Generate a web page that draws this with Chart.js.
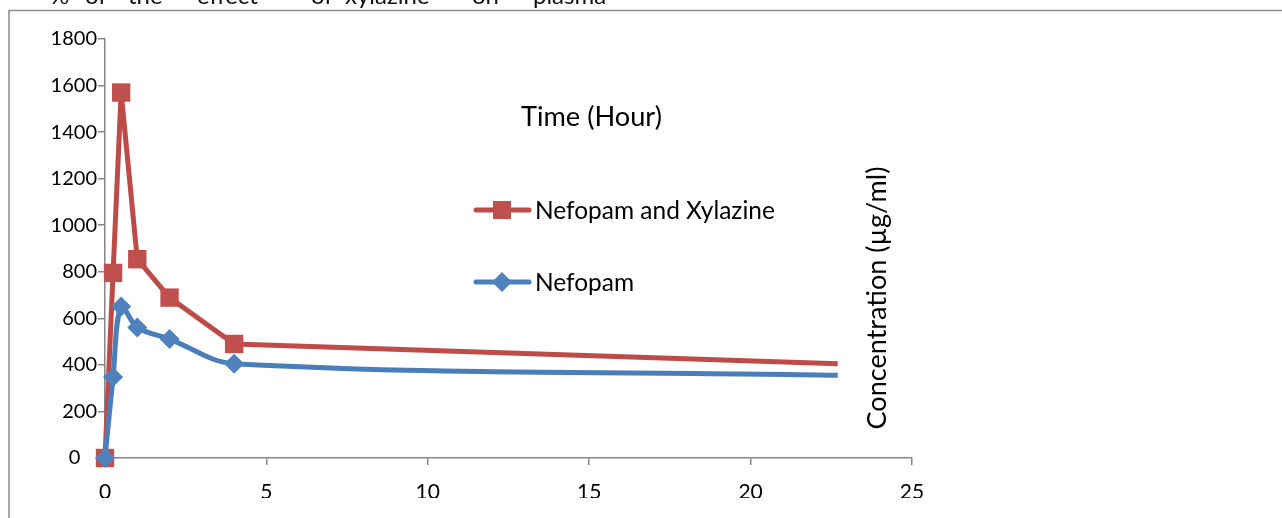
<!DOCTYPE html>
<html><head><meta charset="utf-8">
<script src="https://cdn.jsdelivr.net/npm/chart.js@4"></script>
<style>html,body{margin:0;padding:0;background:#fff;overflow:hidden}#wrap{position:relative;width:1282px;height:518px}</style>
</head><body><div id="wrap"><canvas id="c" width="1282" height="518"></canvas></div>
<script>
// ---- data ----
const timeHours = [0, 0.25, 0.5, 1, 2, 4, 22.7];
const nefopamXylazine = [0, 795, 1570, 854, 689, 490, 405];
const nefopam = [0, 348, 651, 561, 511, 405, 355];
const seriesNames = ['Nefopam and Xylazine', 'Nefopam'];
const xTickValues = [0, 5, 10, 15, 20, 25];
const yTickValues = [0, 200, 400, 600, 800, 1000, 1200, 1400, 1600, 1800];
const xTitle = 'Time (Hour)';
const yTitle = 'Concentration (µg/ml)';
const headerWords = ['%', 'of', 'the', 'effect', 'of', 'xylazine', 'on', 'plasma'];

const RED_LINE = '#BE4B48', RED_FILL = '#C0504D';
const BLUE_LINE = '#4A7EBB', BLUE_FILL = '#4F81BD';
const AXIS = '#868686';
const FONT = 'Lato, "Open Sans", sans-serif';

function pts(xs, ys) { return xs.map((x, i) => ({ x: x, y: ys[i] })); }

function fitFont(ctx, text, target, base) {
  ctx.font = base + 'px ' + FONT;
  const w = ctx.measureText(text).width;
  return base * target / w;
}

const decor = {
  id: 'decor',
  beforeDraw(chart) {
    const ctx = chart.ctx;
    ctx.save();
    ctx.strokeStyle = '#8c8c8c';
    ctx.lineWidth = 1.5;
    ctx.beginPath();
    ctx.moveTo(9, 518); ctx.lineTo(9, 10.5); ctx.lineTo(1282, 10.5);
    ctx.stroke();
    const wordX = [50, 85, 128, 197, 311, 345, 472, 533];
    ctx.fillStyle = '#111';
    ctx.font = '24px ' + FONT;
    ctx.textBaseline = 'alphabetic';
    ctx.textAlign = 'left';
    headerWords.forEach((w, i) => ctx.fillText(w, wordX[i], 4));
    ctx.restore();
  },
  afterDraw(chart) {
    const ctx = chart.ctx;
    ctx.save();
    ctx.fillStyle = '#000';
    ctx.textBaseline = 'middle';
    ctx.textAlign = 'left';
    let fs = fitFont(ctx, xTitle, 141, 24);
    ctx.font = fs + 'px ' + FONT;
    ctx.fillText(xTitle, 521, 117);
    fs = fitFont(ctx, seriesNames[0], 240, 24);
    ctx.font = fs + 'px ' + FONT;
    const rows = [
      { y: 210, line: RED_LINE, fill: RED_FILL, shape: 'rect', name: seriesNames[0] },
      { y: 282, line: BLUE_LINE, fill: BLUE_FILL, shape: 'diamond', name: seriesNames[1] }
    ];
    rows.forEach(r => {
      ctx.strokeStyle = r.line; ctx.lineWidth = 5; ctx.lineCap = 'round';
      ctx.beginPath(); ctx.moveTo(476, r.y); ctx.lineTo(529, r.y); ctx.stroke();
      ctx.fillStyle = r.fill;
      ctx.beginPath();
      if (r.shape === 'rect') { ctx.rect(493, r.y - 9, 18, 18); }
      else { const c = 502, s = 10; ctx.moveTo(c - s, r.y); ctx.lineTo(c, r.y - s); ctx.lineTo(c + s, r.y); ctx.lineTo(c, r.y + s); ctx.closePath(); }
      ctx.fill();
      ctx.fillStyle = '#000';
      ctx.fillText(r.name, 535, r.y + 1);
    });
    fs = fitFont(ctx, yTitle, 263, 24);
    ctx.font = fs + 'px ' + FONT;
    ctx.translate(877, 298);
    ctx.rotate(-Math.PI / 2);
    ctx.textAlign = 'center';
    ctx.fillText(yTitle, 0, 0);
    ctx.restore();
  }
};

const lastIdx = timeHours.length - 1;
new Chart(document.getElementById('c'), {
  type: 'line',
  data: {
    datasets: [
      {
        label: seriesNames[1],
        data: pts(timeHours, nefopam),
        borderColor: BLUE_LINE, backgroundColor: BLUE_FILL,
        borderWidth: 5, tension: 0.35, clip: false,
        pointStyle: 'rectRot',
        pointRadius: c => c.dataIndex === lastIdx ? 0 : 10,
        pointBorderWidth: 0,
        pointBackgroundColor: BLUE_FILL
      },
      {
        label: seriesNames[0],
        data: pts(timeHours, nefopamXylazine),
        borderColor: RED_LINE, backgroundColor: RED_FILL,
        borderWidth: 5, tension: 0, clip: false,
        pointStyle: 'rect',
        pointRadius: c => c.dataIndex === lastIdx ? 0 : 13,
        pointBorderWidth: 0,
        pointBackgroundColor: RED_FILL
      }
    ]
  },
  options: {
    responsive: false, animation: false, devicePixelRatio: 1,
    layout: { padding: { left: 10, top: 39, right: 370, bottom: 20 } },
    plugins: { legend: { display: false }, tooltip: { enabled: false } },
    scales: {
      x: {
        type: 'linear', min: 0, max: 25,
        afterBuildTicks: s => { s.ticks = xTickValues.map(v => ({ value: v })); },
        afterFit: s => { s.height = 40; },
        grid: { drawOnChartArea: false, drawTicks: true, tickLength: 7, color: AXIS, lineWidth: 1.5 },
        border: { color: AXIS, width: 1.5 },
        ticks: { color: '#000', font: { family: FONT, size: 21 }, padding: 15, maxRotation: 0, callback: v => String(v) }
      },
      y: {
        type: 'linear', min: 0, max: 1800,
        afterBuildTicks: s => { s.ticks = yTickValues.map(v => ({ value: v })); },
        afterFit: s => { s.width = 95; },
        grid: { drawOnChartArea: false, drawTicks: true, tickLength: 7, color: AXIS, lineWidth: 1.5 },
        border: { color: AXIS, width: 1.5 },
        ticks: { color: '#000', font: { family: FONT, size: 20 }, padding: 1,
          callback: v => v === 0 ? '0\u2007 ' : String(v) }
      }
    }
  },
  plugins: [decor]
});
</script></body></html>
